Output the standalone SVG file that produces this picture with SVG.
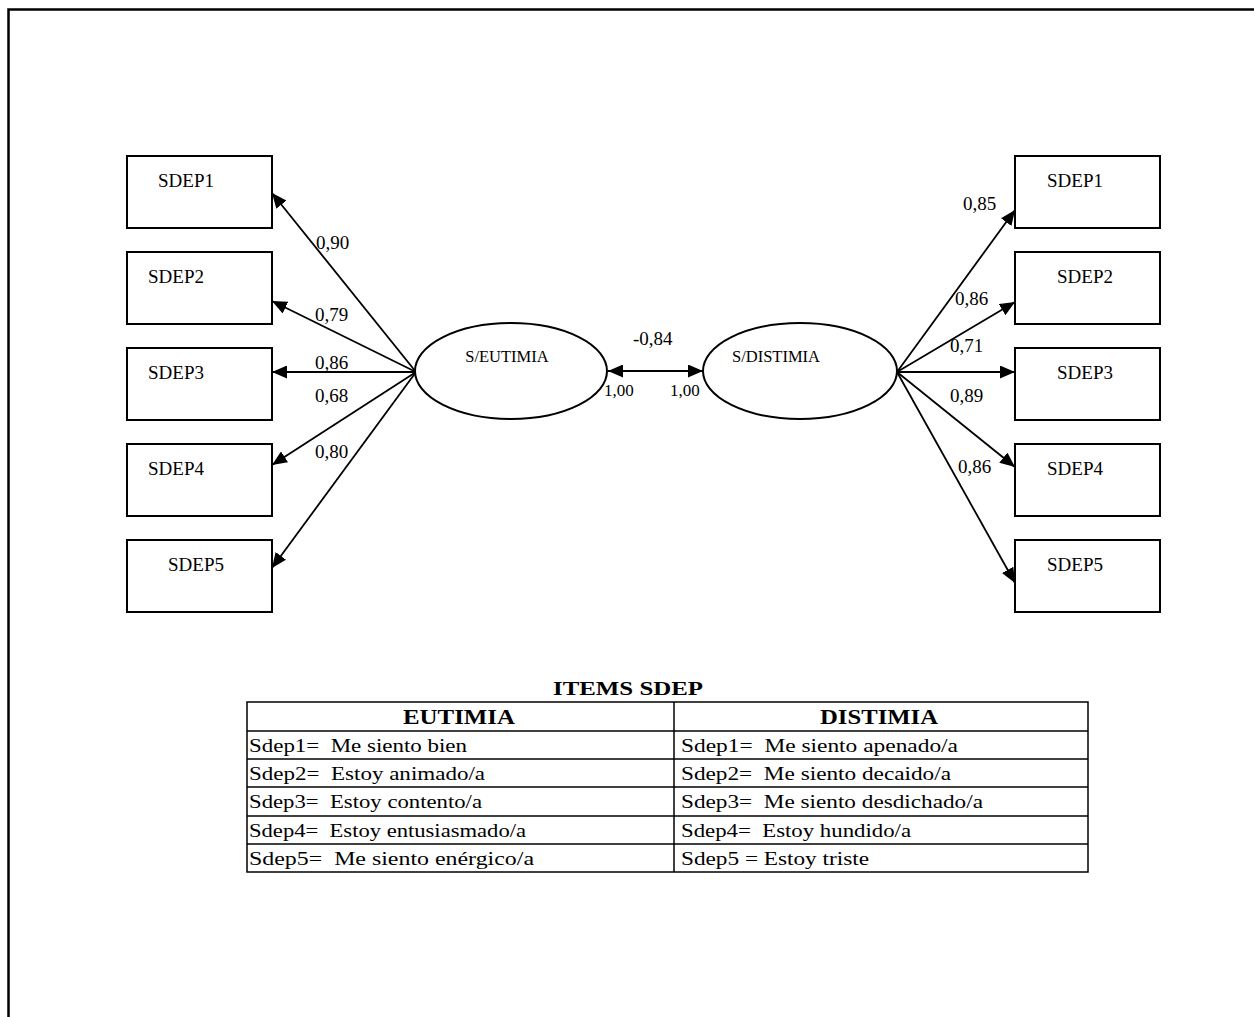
<svg xmlns="http://www.w3.org/2000/svg" width="1254" height="1017" viewBox="0 0 1254 1017">
<defs>
<marker id="ah" viewBox="0 0 15 13" refX="15" refY="6.5" markerWidth="15" markerHeight="13" markerUnits="userSpaceOnUse" orient="auto-start-reverse">
<path d="M0,0 L15,6.5 L0,13 Z" fill="#000"/>
</marker>
</defs>
<style>
.box{fill:#fff;stroke:#000;stroke-width:2}
.ell{fill:#fff;stroke:#000;stroke-width:2}
.lbl{font-family:"Liberation Serif",serif;font-size:19px;fill:#000}
.lat{font-family:"Liberation Serif",serif;font-size:16.5px;fill:#000}
.coef{font-family:"Liberation Serif",serif;font-size:19px;fill:#000}
.small{font-family:"Liberation Serif",serif;font-size:17px;fill:#000}
.con{stroke:#000;stroke-width:1.8;fill:none;marker-end:url(#ah)}
.tb{font-family:"Liberation Serif",serif;font-size:19.5px;fill:#000;white-space:pre}
.th{font-family:"Liberation Serif",serif;font-size:20px;font-weight:bold;fill:#000}
.grid{stroke:#000;stroke-width:1.5;fill:none}
</style>
<rect width="1254" height="1017" fill="#fff"/>
<path d="M8.5,1017 V9.5 H1254" fill="none" stroke="#000" stroke-width="2.5"/>

<g id="connectors">
<line class="con" x1="416" y1="372" x2="272" y2="193"/>
<line class="con" x1="416" y1="372" x2="272" y2="301"/>
<line class="con" x1="416" y1="372" x2="272" y2="372"/>
<line class="con" x1="416" y1="372" x2="272" y2="465"/>
<line class="con" x1="416" y1="372" x2="272" y2="568"/>
<line class="con" x1="897" y1="372" x2="1015" y2="210"/>
<line class="con" x1="897" y1="372" x2="1015" y2="302"/>
<line class="con" x1="897" y1="372" x2="1015" y2="372"/>
<line class="con" x1="897" y1="372" x2="1015" y2="467"/>
<line class="con" x1="897" y1="372" x2="1015" y2="583"/>
<line x1="608" y1="371" x2="703" y2="371" stroke="#000" stroke-width="1.8" marker-start="url(#ah)" marker-end="url(#ah)"/>
<text class="coef" x="316" y="249">0,90</text>
<text class="coef" x="315" y="321">0,79</text>
<text class="coef" x="315" y="369">0,86</text>
<text class="coef" x="315" y="402">0,68</text>
<text class="coef" x="315" y="458">0,80</text>
<text class="coef" x="963" y="210">0,85</text>
<text class="coef" x="955" y="305">0,86</text>
<text class="coef" x="950" y="352">0,71</text>
<text class="coef" x="950" y="402">0,89</text>
<text class="coef" x="958" y="473">0,86</text>
<text class="coef" x="633" y="345">-0,84</text>
<text class="small" x="604" y="396">1,00</text>
<text class="small" x="670" y="396">1,00</text>
</g>

<g id="eutimia"><ellipse class="ell" cx="511" cy="371" rx="96" ry="48"/><text class="lat" x="507" y="362" text-anchor="middle">S/EUTIMIA</text></g>
<g id="distimia"><ellipse class="ell" cx="800" cy="371" rx="97" ry="48"/><text class="lat" x="776" y="362" text-anchor="middle">S/DISTIMIA</text></g>

<g id="l1"><rect class="box" x="127" y="156" width="145" height="72"/><text class="lbl" x="158" y="187">SDEP1</text></g>
<g id="l2"><rect class="box" x="127" y="252" width="145" height="72"/><text class="lbl" x="148" y="283">SDEP2</text></g>
<g id="l3"><rect class="box" x="127" y="348" width="145" height="72"/><text class="lbl" x="148" y="379">SDEP3</text></g>
<g id="l4"><rect class="box" x="127" y="444" width="145" height="72"/><text class="lbl" x="148" y="475">SDEP4</text></g>
<g id="l5"><rect class="box" x="127" y="540" width="145" height="72"/><text class="lbl" x="168" y="571">SDEP5</text></g>

<g id="r1"><rect class="box" x="1015" y="156" width="145" height="72"/><text class="lbl" x="1047" y="187">SDEP1</text></g>
<g id="r2"><rect class="box" x="1015" y="252" width="145" height="72"/><text class="lbl" x="1057" y="283">SDEP2</text></g>
<g id="r3"><rect class="box" x="1015" y="348" width="145" height="72"/><text class="lbl" x="1057" y="379">SDEP3</text></g>
<g id="r4"><rect class="box" x="1015" y="444" width="145" height="72"/><text class="lbl" x="1047" y="475">SDEP4</text></g>
<g id="r5"><rect class="box" x="1015" y="540" width="145" height="72"/><text class="lbl" x="1047" y="571">SDEP5</text></g>

<g id="table">
<text class="th" x="553" y="695" textLength="150" lengthAdjust="spacingAndGlyphs" style="font-size:19px">ITEMS SDEP</text>
<rect class="grid" x="247" y="702" width="841" height="170"/>
<line class="grid" x1="674" y1="702" x2="674" y2="872"/>
<line class="grid" x1="247" y1="731" x2="1088" y2="731"/>
<line class="grid" x1="247" y1="759" x2="1088" y2="759"/>
<line class="grid" x1="247" y1="787" x2="1088" y2="787"/>
<line class="grid" x1="247" y1="816" x2="1088" y2="816"/>
<line class="grid" x1="247" y1="844" x2="1088" y2="844"/>
<text class="th" x="403" y="724" textLength="112" lengthAdjust="spacingAndGlyphs">EUTIMIA</text>
<text class="th" x="820" y="724" textLength="118" lengthAdjust="spacingAndGlyphs">DISTIMIA</text>
<text class="tb" x="249" y="752" textLength="218" lengthAdjust="spacingAndGlyphs">Sdep1=  Me siento bien</text>
<text class="tb" x="249" y="780" textLength="236" lengthAdjust="spacingAndGlyphs">Sdep2=  Estoy animado/a</text>
<text class="tb" x="249" y="808" textLength="233" lengthAdjust="spacingAndGlyphs">Sdep3=  Estoy contento/a</text>
<text class="tb" x="249" y="837" textLength="277" lengthAdjust="spacingAndGlyphs">Sdep4=  Estoy entusiasmado/a</text>
<text class="tb" x="249" y="865" textLength="285" lengthAdjust="spacingAndGlyphs">Sdep5=  Me siento enérgico/a</text>
<text class="tb" x="681" y="752" textLength="277" lengthAdjust="spacingAndGlyphs">Sdep1=  Me siento apenado/a</text>
<text class="tb" x="681" y="780" textLength="270" lengthAdjust="spacingAndGlyphs">Sdep2=  Me siento decaido/a</text>
<text class="tb" x="681" y="808" textLength="302" lengthAdjust="spacingAndGlyphs">Sdep3=  Me siento desdichado/a</text>
<text class="tb" x="681" y="837" textLength="230" lengthAdjust="spacingAndGlyphs">Sdep4=  Estoy hundido/a</text>
<text class="tb" x="681" y="865" textLength="188" lengthAdjust="spacingAndGlyphs">Sdep5 = Estoy triste</text>
</g>
</svg>
